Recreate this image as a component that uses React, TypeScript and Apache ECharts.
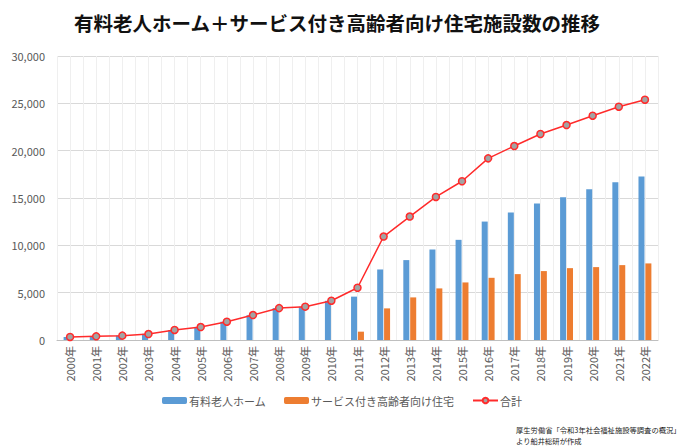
import React, { useEffect, useRef } from "react";
import * as echarts from "echarts";

const years = [
  "2000年", "2001年", "2002年", "2003年", "2004年", "2005年", "2006年", "2007年",
  "2008年", "2009年", "2010年", "2011年", "2012年", "2013年", "2014年", "2015年",
  "2016年", "2017年", "2018年", "2019年", "2020年", "2021年", "2022年",
];

// 有料老人ホーム
const yuryoHomes = [
  330, 400, 470, 650, 1050, 1380, 1930, 2620,
  3370, 3510, 4140, 4580, 7450, 8440, 9560, 10580,
  12510, 13460, 14410, 15080, 15920, 16660, 17260,
];

// サービス付き高齢者向け住宅 (制度開始 2011年)
const sakoju = [
  null, null, null, null, null, null, null, null,
  null, null, null, 880, 3340, 4500, 5450, 6080,
  6570, 6960, 7280, 7590, 7700, 7910, 8090,
];

// 合計
const totals = [
  320, 390, 460, 630, 1060, 1370, 1930, 2640,
  3370, 3520, 4150, 5520, 10930, 13040, 15110, 16770,
  19190, 20490, 21760, 22710, 23690, 24640, 25380,
];

const yTicks = { min: 0, max: 30000, interval: 5000 };

const titleText = "有料老人ホーム＋サービス付き高齢者向け住宅施設数の推移";
const sourceLines = ["厚生労働省「令和3年社会福祉施設等調査の概況」", "より船井総研が作成"];

const FONT = '"Noto Sans CJK JP", "Noto Sans", sans-serif';
const GRAY = "#595959";

export default function App() {
  const ref = useRef<HTMLDivElement>(null);

  useEffect(() => {
    if (!ref.current) return;
    const chart = echarts.init(ref.current, null, { renderer: "svg" });
    chart.setOption({
      animation: false,
      backgroundColor: "#ffffff",
      textStyle: { fontFamily: FONT },
      grid: { left: 57, right: 42, top: 56, bottom: 108, containLabel: false },
      legend: {
        left: 157,
        top: 390,
        itemWidth: 25,
        itemHeight: 7,
        itemGap: 18,
        textStyle: {
          color: GRAY,
          fontSize: 11,
          fontFamily: FONT,
          padding: [0, 0, 0, -3],
        },
        data: ["有料老人ホーム", "サービス付き高齢者向け住宅", "合計"],
      },
      xAxis: [
        {
          type: "category",
          data: years,
          boundaryGap: true,
          axisLine: { show: true, lineStyle: { color: "#bfbfbf", width: 1 } },
          axisTick: { show: false },
          splitLine: { show: false },
          axisLabel: {
            rotate: 90,
            color: GRAY,
            fontSize: 11,
            fontFamily: FONT,
            margin: 6,
            interval: 0,
          },
          z: 3,
        },
        {
          // half-category vertical grid lines
          type: "value",
          min: 0,
          max: years.length * 2,
          interval: 1,
          axisLine: { show: false },
          axisTick: { show: false },
          axisLabel: { show: false },
          splitLine: { show: true, lineStyle: { color: "#efefef", width: 1 } },
          position: "top",
          z: 0,
        },
      ],
      yAxis: {
        type: "value",
        ...yTicks,
        axisLine: { show: false },
        axisTick: { show: false },
        axisLabel: {
          color: GRAY,
          fontSize: 11,
          fontFamily: FONT,
          margin: 12,
          formatter: (v: number) => v.toLocaleString("en-US"),
        },
        splitLine: { lineStyle: { color: "#d9d9d9", width: 1 } },
      },
      series: [
        {
          name: "有料老人ホーム",
          type: "bar",
          xAxisIndex: 0,
          data: yuryoHomes,
          barWidth: 6,
          barGap: "15%",
          itemStyle: { color: "#5B9BD5" },
        },
        {
          name: "サービス付き高齢者向け住宅",
          type: "bar",
          xAxisIndex: 0,
          data: sakoju,
          barWidth: 6,
          barGap: "15%",
          itemStyle: { color: "#ED7D31" },
        },
        {
          name: "合計",
          type: "line",
          xAxisIndex: 0,
          data: totals,
          symbol: "circle",
          symbolSize: 7,
          lineStyle: { color: "#ff2b2b", width: 1.5 },
          itemStyle: { color: "#a3a3a3", borderColor: "#ff2b2b", borderWidth: 1.5 },
          z: 5,
        },
      ],
      graphic: [
        {
          type: "text",
          x: 337,
          y: 22,
          style: {
            text: titleText,
            fill: "#111111",
            font: `bold 19.5px ${FONT}`,
            textAlign: "center",
            textVerticalAlign: "middle",
          },
        },
        {
          type: "text",
          x: 516,
          y: 424,
          style: {
            text: sourceLines.join("\n"),
            fill: "#222222",
            font: `7.3px ${FONT}`,
            lineHeight: 11,
            textAlign: "left",
          },
        },
      ],
    });
    return () => chart.dispose();
  }, []);

  return (
    <div
      ref={ref}
      style={{ position: "fixed", left: 0, top: 0, width: 700, height: 448 }}
    />
  );
}
